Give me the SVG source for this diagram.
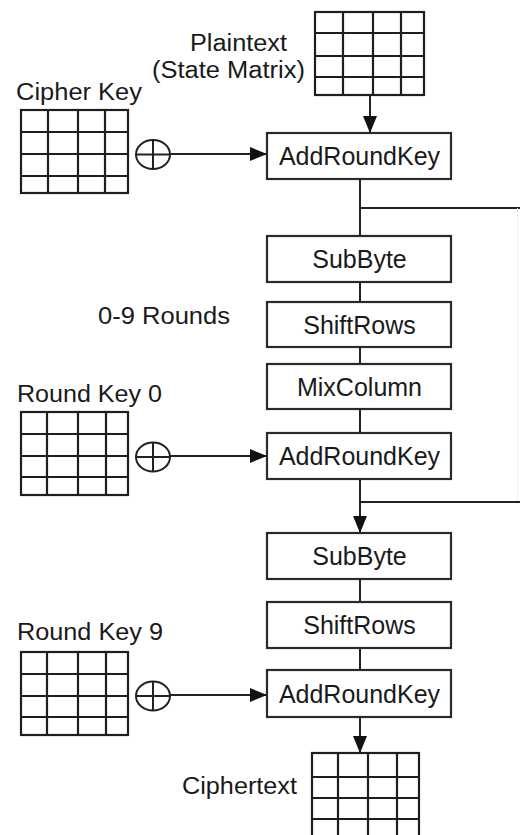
<svg xmlns="http://www.w3.org/2000/svg" width="520" height="835" viewBox="0 0 520 835">
<style>
  .box { fill: #fff; stroke: #2a2a2a; stroke-width: 2.2; }
  .grid { fill: none; stroke: #1e1e1e; stroke-width: 2.2; }
  .lbl { font-family: "Liberation Sans", Arial, sans-serif; font-size: 25px; fill: #1a1a1a; text-anchor: middle; }
  .side { font-family: "Liberation Sans", Arial, sans-serif; font-size: 23px; fill: #1a1a1a; }
  .wire { fill: none; stroke: #222; stroke-width: 2; }
  .xor { fill: #fff; stroke: #222; stroke-width: 2; }
</style>
<defs>
  <marker id="ah" markerUnits="userSpaceOnUse" markerWidth="17" markerHeight="14" refX="17" refY="7" orient="auto">
    <path d="M0,0 L17,7 L0,14 z" fill="#111"/>
  </marker>
</defs>
<rect width="520" height="835" fill="#fff"/>

<g id="connectors">
  <line class="wire" x1="370" y1="95" x2="370" y2="133" marker-end="url(#ah)"/>
  <line class="wire" x1="170" y1="154" x2="267" y2="154" marker-end="url(#ah)"/>
  <line class="wire" x1="360" y1="179" x2="360" y2="236"/>
  <line class="wire" x1="360" y1="208" x2="520" y2="208"/>
  <line x1="517.5" y1="208" x2="517.5" y2="502" stroke="#efefef" stroke-width="1"/>
  <line class="wire" x1="360" y1="282" x2="360" y2="302"/>
  <line class="wire" x1="360" y1="347" x2="360" y2="364"/>
  <line class="wire" x1="360" y1="409" x2="360" y2="433"/>
  <line class="wire" x1="170" y1="456" x2="267" y2="456" marker-end="url(#ah)"/>
  <line class="wire" x1="360" y1="479" x2="360" y2="533" marker-end="url(#ah)"/>
  <line class="wire" x1="360" y1="502" x2="520" y2="502"/>
  <line class="wire" x1="360" y1="579" x2="360" y2="602"/>
  <line class="wire" x1="360" y1="648" x2="360" y2="670"/>
  <line class="wire" x1="170" y1="695" x2="267" y2="695" marker-end="url(#ah)"/>
  <line class="wire" x1="360" y1="717" x2="360" y2="753" marker-end="url(#ah)"/>
</g>

<g id="plaintext">
  <text class="side" x="190" y="51" textLength="97" lengthAdjust="spacingAndGlyphs">Plaintext</text>
  <text class="side" x="152" y="78" textLength="153" lengthAdjust="spacingAndGlyphs">(State Matrix)</text>
  <rect class="grid" x="315" y="12" width="109" height="83"/>
  <path class="grid" d="M343,12V95M373,12V95M401,12V95M315,33H424M315,56H424M315,77H424"/>
</g>

<g id="cipher-key">
  <text class="side" x="16" y="100" textLength="126" lengthAdjust="spacingAndGlyphs">Cipher Key</text>
  <rect class="grid" x="21" y="110" width="107" height="83"/>
  <path class="grid" d="M48,110V193M78,110V193M105,110V193M21,132H128M21,154H128M21,176H128"/>
  <ellipse class="xor" cx="153" cy="154.5" rx="17" ry="14.5"/>
  <path class="wire" d="M153,140V169M136,154.5H170"/>
</g>

<g id="add-round-key-1">
  <rect class="box" x="267" y="133" width="184" height="46"/>
  <text class="lbl" x="359.5" y="165">AddRoundKey</text>
</g>

<g id="rounds-label">
  <text class="side" x="98" y="324" textLength="132" lengthAdjust="spacingAndGlyphs">0-9 Rounds</text>
</g>

<g id="subbyte-1">
  <rect class="box" x="267" y="236" width="184" height="46"/>
  <text class="lbl" x="359.5" y="268">SubByte</text>
</g>

<g id="shiftrows-1">
  <rect class="box" x="267" y="302" width="184" height="45"/>
  <text class="lbl" x="359.5" y="333.5">ShiftRows</text>
</g>

<g id="mixcolumn">
  <rect class="box" x="267" y="364" width="184" height="45"/>
  <text class="lbl" x="359.5" y="395.5">MixColumn</text>
</g>

<g id="round-key-0">
  <text class="side" x="17" y="402" textLength="145" lengthAdjust="spacingAndGlyphs">Round Key 0</text>
  <rect class="grid" x="21" y="412" width="107" height="83"/>
  <path class="grid" d="M47,412V495M78,412V495M106,412V495M21,434H128M21,456H128M21,477H128"/>
  <ellipse class="xor" cx="153" cy="457" rx="17" ry="14.5"/>
  <path class="wire" d="M153,442.5V471.5M136,457H170"/>
</g>

<g id="add-round-key-2">
  <rect class="box" x="267" y="433" width="184" height="46"/>
  <text class="lbl" x="359.5" y="465">AddRoundKey</text>
</g>

<g id="subbyte-2">
  <rect class="box" x="267" y="533" width="184" height="46"/>
  <text class="lbl" x="359.5" y="565">SubByte</text>
</g>

<g id="shiftrows-2">
  <rect class="box" x="267" y="602" width="184" height="46"/>
  <text class="lbl" x="359.5" y="634">ShiftRows</text>
</g>

<g id="round-key-9">
  <text class="side" x="17" y="640" textLength="146" lengthAdjust="spacingAndGlyphs">Round Key 9</text>
  <rect class="grid" x="21" y="652" width="107" height="83"/>
  <path class="grid" d="M47,652V735M78,652V735M106,652V735M21,674H128M21,696H128M21,717H128"/>
  <ellipse class="xor" cx="153" cy="696" rx="17" ry="14.5"/>
  <path class="wire" d="M153,681.5V710.5M136,696H170"/>
</g>

<g id="add-round-key-3">
  <rect class="box" x="267" y="670" width="184" height="47"/>
  <text class="lbl" x="359.5" y="702.5">AddRoundKey</text>
</g>

<g id="ciphertext">
  <text class="side" x="182" y="794" textLength="115" lengthAdjust="spacingAndGlyphs">Ciphertext</text>
  <rect class="grid" x="312" y="753" width="107" height="87"/>
  <path class="grid" d="M338,753V840M368,753V840M397,753V840M312,777H419M312,798H419M312,819H419"/>
</g>
</svg>
